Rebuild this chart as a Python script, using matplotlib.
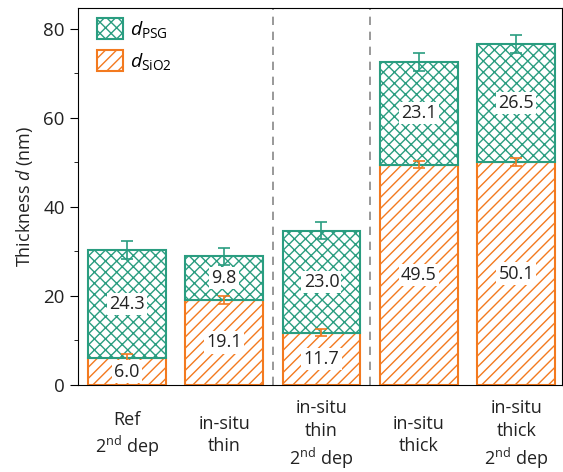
import numpy as np
import matplotlib.pyplot as plt

plt.rcParams['font.family'] = ['Open Sans', 'DejaVu Sans']
plt.rcParams['mathtext.fontset'] = 'custom'
plt.rcParams['mathtext.rm'] = 'Open Sans'
plt.rcParams['mathtext.it'] = 'Open Sans:italic'
plt.rcParams['hatch.linewidth'] = 1.0

# data
labels = ['Ref\n2$^{\\rm nd}$ dep', 'in-situ\nthin', 'in-situ\nthin\n2$^{\\rm nd}$ dep',
          'in-situ\nthick', 'in-situ\nthick\n2$^{\\rm nd}$ dep']
d_sio2 = [6.0, 19.1, 11.7, 49.5, 50.1]
d_psg = [24.3, 9.8, 23.0, 23.1, 26.5]
err_sio2 = [0.9, 0.9, 0.8, 0.8, 0.9]
err_psg = [2.0, 1.9, 2.0, 2.0, 2.0]

green = '#2a9d80'
orange = '#f37a1f'
txt = '#222222'

fig = plt.figure(figsize=(5.63, 4.72), dpi=100)
ax = fig.add_axes([78/563, 1-385/472, 484/563, 377/472])

x = np.arange(len(labels))
w = 0.8
ax.bar(x, d_sio2, w, color='white', edgecolor=orange, hatch='///', linewidth=1.5,
       label='$d_{\\rm SiO2}$')
ax.bar(x, d_psg, w, bottom=d_sio2, color='white', edgecolor=green, hatch='xxx',
       linewidth=1.5, label='$d_{\\rm PSG}$')

tops = np.array(d_sio2) + np.array(d_psg)
ax.errorbar(x, d_sio2, yerr=err_sio2, fmt='none', ecolor=orange, capsize=4, elinewidth=1.2, capthick=1.2)
ax.errorbar(x, tops, yerr=err_psg, fmt='none', ecolor=green, capsize=4, elinewidth=1.2, capthick=1.2)

box = dict(facecolor='white', edgecolor='none', pad=1.5)
for i in range(len(x)):
    ys = d_sio2[i] / 2 if d_sio2[i] > 8 else 3.0
    ax.text(x[i], ys, f'{d_sio2[i]:.1f}', ha='center', va='center', fontsize=13, color=txt, bbox=box)
    ax.text(x[i], d_sio2[i] + d_psg[i] / 2, f'{d_psg[i]:.1f}', ha='center', va='center',
            fontsize=13, color=txt, bbox=box)

for xv in [1.5, 2.5]:
    ax.axvline(xv, color='#888888', ls=(0, (5, 4)), lw=1.2)

ax.set_xlim(-0.5, 4.47)
ax.set_ylim(0, 84.7)
ax.set_yticks([0, 20, 40, 60, 80])
ax.set_yticks([10, 30, 50, 70], minor=True)
ax.tick_params(axis='y', which='major', labelsize=13.5, length=6, right=True, labelcolor=txt)
ax.tick_params(axis='y', which='minor', length=3, right=True)
ax.set_xticks(x)
ax.set_xticklabels(labels, fontsize=13, va='center', linespacing=1.3, color=txt)
ax.tick_params(axis='x', length=0, pad=36)
ax.set_ylabel('Thickness $d$ (nm)', fontsize=13, color=txt, labelpad=6)

h, l = ax.get_legend_handles_labels()
ax.legend(h[::-1], l[::-1], loc='upper left', frameon=False, fontsize=14,
          handlelength=1.3, handleheight=1.3, borderaxespad=0.1, bbox_to_anchor=(0.02, 1.0),
          labelspacing=0.5, handletextpad=0.4)

fig.savefig('out.png', dpi=100)
